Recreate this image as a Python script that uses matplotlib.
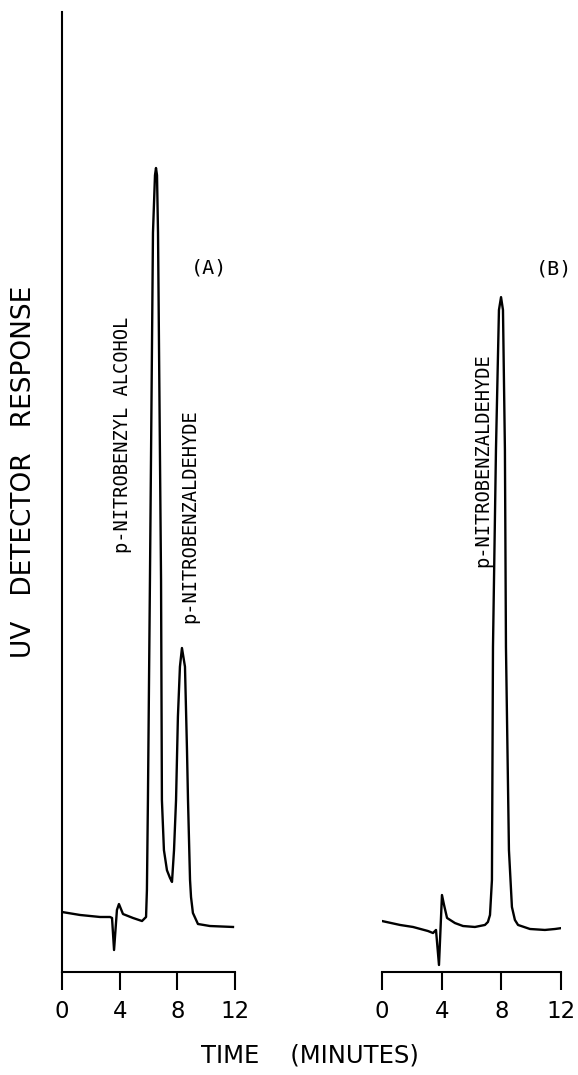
import matplotlib
matplotlib.use("Agg")
from matplotlib import pyplot as plt

# chromatogram (A): mixture, time in minutes / detector response (arbitrary units)
time_a = [0.00, 1.25, 2.64, 3.33, 3.47, 3.61, 3.81, 3.95, 4.23, 4.92, 5.55, 5.83,
          5.89, 5.96, 6.10, 6.31, 6.45, 6.52, 6.59, 6.66, 6.87, 6.93, 7.07, 7.28,
          7.49, 7.63, 7.77, 7.91, 8.04, 8.18, 8.32, 8.53, 8.67, 8.74, 8.88, 8.95,
          9.08, 9.43, 10.26, 11.86]
resp_a = [6.25, 5.94, 5.73, 5.73, 5.63, 2.29, 6.46, 7.08, 6.04, 5.63, 5.31, 5.73,
          8.54, 17.9, 40.8, 77.0, 83.0, 83.75, 83.0, 77.0, 40.8, 17.9, 12.7, 10.6,
          9.8, 9.38, 12.7, 17.9, 26.6, 31.8, 33.75, 31.8, 23.1, 17.9, 9.6, 7.8,
          6.15, 5.0, 4.79, 4.69]

# chromatogram (B): aldehyde only
time_b = [0.00, 1.21, 2.08, 3.08, 3.42, 3.62, 3.82, 4.02, 4.16, 4.36, 4.89, 5.43,
          6.23, 6.90, 7.10, 7.24, 7.37, 7.44, 7.64, 7.84, 7.98, 8.11, 8.24, 8.31,
          8.51, 8.71, 8.91, 9.12, 9.92, 10.92, 11.60, 12.06]
resp_b = [5.31, 4.90, 4.69, 4.27, 4.06, 4.38, 0.73, 8.02, 6.98, 5.63, 5.10, 4.79,
          4.69, 4.90, 5.21, 5.94, 9.58, 33.85, 54.4, 68.96, 70.3, 68.96, 54.4, 33.85,
          12.7, 6.77, 5.42, 4.90, 4.48, 4.38, 4.48, 4.58]

time_ticks = [0, 4, 8, 12]

W, H = 578, 1075
fig = plt.figure(figsize=(W / 100, H / 100), dpi=100)
fig.patch.set_facecolor("white")

label_font = dict(family=["DejaVu Sans Mono"], fontsize=13.5, color="black")
panel_font = dict(family=["DejaVu Sans Mono"], fontsize=14.5, color="black")
sans = ["DejaVu Sans"]


def setup_axis(ax, show_left):
    ax.set_xlim(0, 12)
    ax.set_ylim(0, 100)
    ax.set_facecolor("none")
    for side in ("top", "right"):
        ax.spines[side].set_visible(False)
    ax.spines["left"].set_visible(show_left)
    ax.spines["left"].set_linewidth(1.5)
    ax.spines["bottom"].set_linewidth(1.5)
    ax.set_xticks(time_ticks)
    ax.set_xticklabels([str(t) for t in time_ticks], family=sans,
                       fontsize=16.5, color="black")
    ax.tick_params(axis="x", direction="out", length=13, width=1.5, pad=7)
    ax.set_yticks([])


bottom = 1 - 972 / H
height = (972 - 12) / H

ax_a = fig.add_axes([62 / W, bottom, (235 - 62) / W, height])
setup_axis(ax_a, True)
ax_a.plot(time_a, resp_a, color="black", lw=1.7, solid_joinstyle="round")
ax_a.text(4.23, 55.9, "p-NITROBENZYL ALCOHOL", rotation=90,
          ha="center", va="center", **label_font)
ax_a.text(8.88, 47.5, "p-NITROBENZALDEHYDE", rotation=90,
          ha="center", va="center", **label_font)
ax_a.text(10.19, 73.3, "(A)", ha="center", va="center", **panel_font)

ax_b = fig.add_axes([382 / W, bottom, (561 - 382) / W, height])
setup_axis(ax_b, False)
ax_b.plot(time_b, resp_b, color="black", lw=1.7, solid_joinstyle="round")
ax_b.text(6.77, 53.3, "p-NITROBENZALDEHYDE", rotation=90,
          ha="center", va="center", **label_font)
ax_b.text(11.53, 73.2, "(B)", ha="center", va="center", **panel_font)

fig.text(24 / W, 1 - 472 / H, "UV   DETECTOR   RESPONSE", rotation=90,
         ha="center", va="center", family=sans, fontsize=19)
fig.text(310 / W, 1 - 1055 / H, "TIME    (MINUTES)", ha="center", va="center",
         family=sans, fontsize=17.5)

fig.savefig("out.png", dpi=100)
